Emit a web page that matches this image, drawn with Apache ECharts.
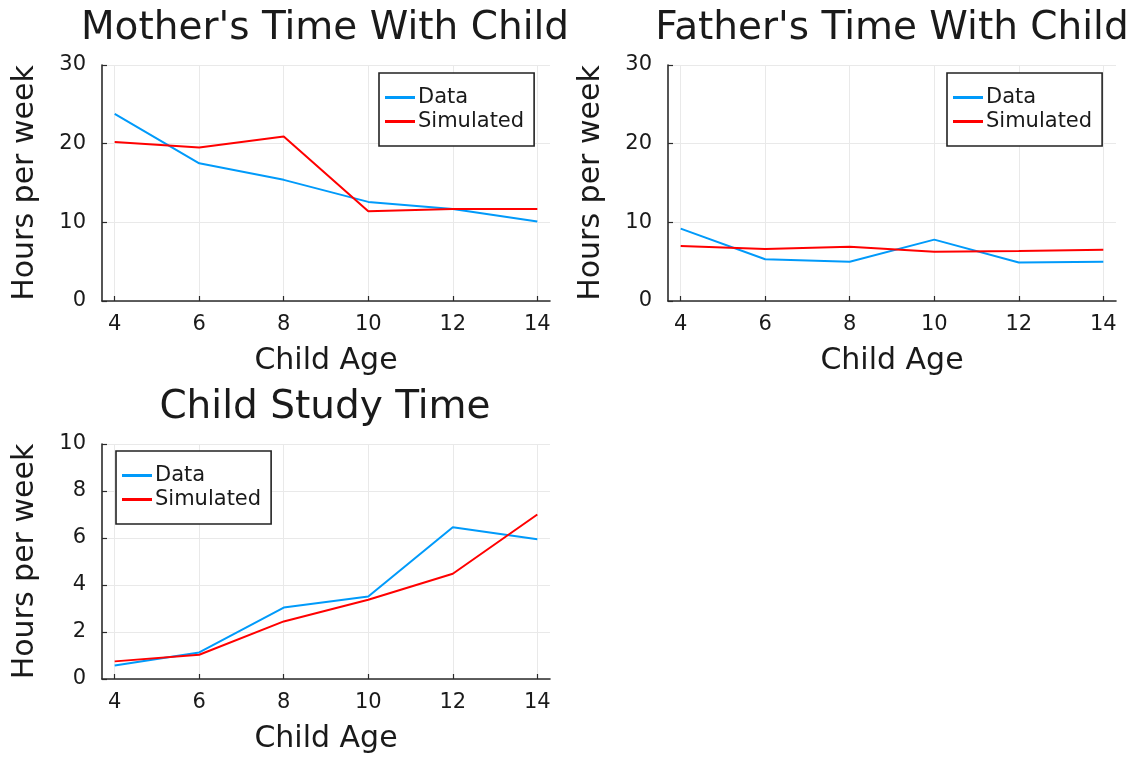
<!DOCTYPE html>
<html>
<head>
<meta charset="utf-8">
<script src="https://cdn.jsdelivr.net/npm/echarts@6/dist/echarts.min.js"></script>
<style>
  html, body { margin: 0; padding: 0; background: #ffffff; }
  #chart { width: 1136px; height: 757px; }
</style>
</head>
<body>
<div id="chart"></div>
<script>
// Child ages on the horizontal axis
const ages = [4, 6, 8, 10, 12, 14];
const ageTicks = [4, 6, 8, 10, 12, 14];

// Mother's time with child (hours per week)
const motherData = [23.8, 17.5, 15.4, 12.6, 11.7, 10.1];
const motherSim = [20.2, 19.5, 20.9, 11.4, 11.7, 11.7];

// Father's time with child (hours per week)
const fatherData = [9.2, 5.3, 5.0, 7.8, 4.9, 5.0];
const fatherSim = [7.0, 6.6, 6.9, 6.25, 6.35, 6.5];

// Child study time (hours per week)
const studyData = [0.57, 1.13, 3.04, 3.51, 6.46, 5.95];
const studySim = [0.75, 1.03, 2.45, 3.37, 4.48, 7.0];

const panelTitles = ["Mother's Time With Child", "Father's Time With Child", "Child Study Time"];
const xName = 'Child Age';
const yName = 'Hours per week';

const FONT = 'DejaVu Sans';
const BLUE = '#009afa';
const RED = '#ff0000';
const AXIS = '#2b2b2b';
const GRIDC = '#e9e9e9';
const TEXT = '#1a1a1a';

const grids = [
  { left: 102, top: 65, width: 448, height: 236 },
  { left: 668, top: 65, width: 448, height: 236 },
  { left: 102, top: 444, width: 448, height: 235 }
];
const yRanges = [
  { min: 0, max: 30, interval: 10 },
  { min: 0, max: 30, interval: 10 },
  { min: 0, max: 10, interval: 2 }
];

function xAxisFor(i) {
  return {
    gridIndex: i, type: 'value', min: 3.7, max: 14.3,
    name: xName, nameLocation: 'middle', nameGap: 45,
    nameTextStyle: { fontFamily: FONT, fontSize: 30, color: TEXT },
    axisLine: { show: true, onZero: false, lineStyle: { color: AXIS, width: 1.6 } },
    axisTick: { show: true, inside: true, length: 5, customValues: ageTicks, lineStyle: { color: AXIS, width: 1.2 } },
    axisLabel: { customValues: ageTicks, margin: 13, fontFamily: FONT, fontSize: 21, color: TEXT },
    splitLine: { show: true, lineStyle: { color: GRIDC, width: 1 } }
  };
}
function yAxisFor(i) {
  const r = yRanges[i];
  return {
    gridIndex: i, type: 'value', min: r.min, max: r.max, interval: r.interval,
    name: yName, nameLocation: 'middle', nameGap: 62, nameRotate: 90,
    nameTextStyle: { fontFamily: FONT, fontSize: 30, color: TEXT },
    axisLine: { show: true, onZero: false, lineStyle: { color: AXIS, width: 1.6 } },
    axisTick: { show: true, inside: true, length: 5, lineStyle: { color: AXIS, width: 1.2 } },
    axisLabel: { margin: 16, fontFamily: FONT, fontSize: 21, color: TEXT },
    splitLine: { show: true, lineStyle: { color: GRIDC, width: 1 } }
  };
}
function pairs(ys) { return ages.map((a, k) => [a, ys[k]]); }
function line(name, i, ys, color) {
  return {
    name: name, type: 'line', xAxisIndex: i, yAxisIndex: i,
    data: pairs(ys), showSymbol: false, symbol: 'none', animation: false,
    color: color, lineStyle: { color: color, width: 2 }, z: name === 'Data' ? 2 : 3
  };
}
function legendAt(left, top) {
  return {
    data: [{ name: 'Data', icon: 'rect' }, { name: 'Simulated', icon: 'rect' }],
    orient: 'vertical', left: left, top: top,
    itemWidth: 30, itemHeight: 3, itemGap: 3,
    padding: [14, 10, 14, 6],
    borderColor: '#222', borderWidth: 1.6, backgroundColor: '#fff',
    selectedMode: false,
    textStyle: { fontFamily: FONT, fontSize: 21, color: TEXT, padding: [0, 0, 0, -2] }
  };
}

const titleCenters = [
  { x: 325, y: 29 },
  { x: 892, y: 29 },
  { x: 325, y: 408 }
];

const option = {
  backgroundColor: '#ffffff',
  animation: false,
  grid: grids,
  xAxis: [0, 1, 2].map(xAxisFor),
  yAxis: [0, 1, 2].map(yAxisFor),
  legend: [legendAt(379, 73), legendAt(947, 73), legendAt(116, 451)],
  graphic: panelTitles.map((t, i) => ({
    type: 'text', x: titleCenters[i].x, y: titleCenters[i].y,
    style: { text: t, fontFamily: FONT, fontSize: 39, fill: TEXT, align: 'center', verticalAlign: 'middle' }
  })),
  series: [
    line('Data', 0, motherData, BLUE), line('Simulated', 0, motherSim, RED),
    line('Data', 1, fatherData, BLUE), line('Simulated', 1, fatherSim, RED),
    line('Data', 2, studyData, BLUE), line('Simulated', 2, studySim, RED)
  ]
};

const chart = echarts.init(document.getElementById('chart'), null, { renderer: 'canvas' });
chart.setOption(option);
</script>
</body>
</html>
